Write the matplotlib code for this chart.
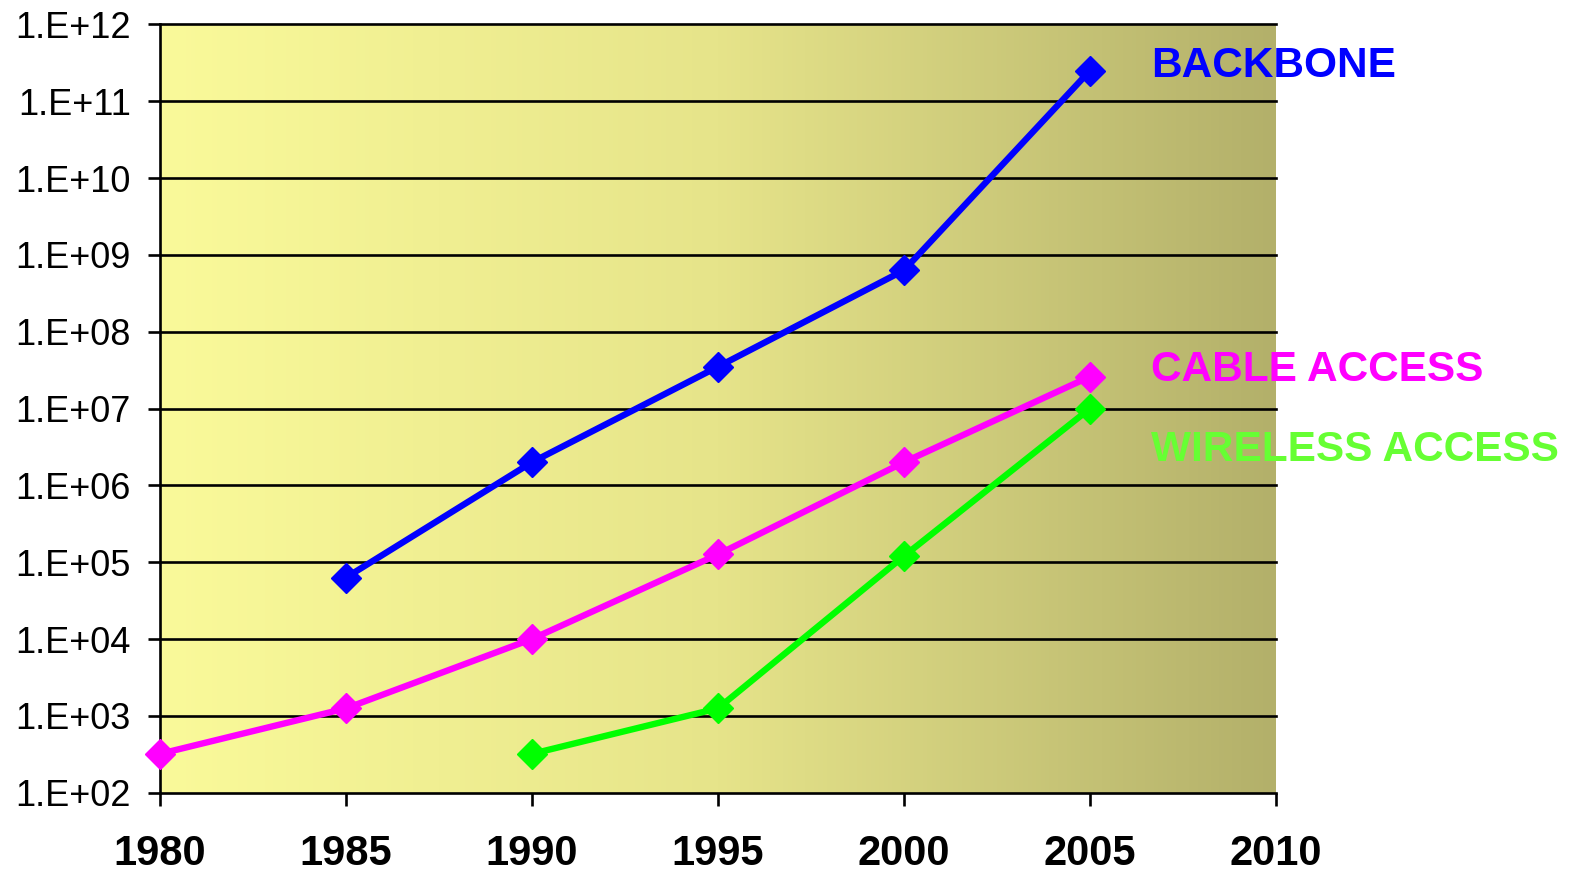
import numpy as np
import matplotlib.pyplot as plt
from matplotlib.colors import LinearSegmentedColormap

plt.rcParams['font.family'] = ['Liberation Sans', 'DejaVu Sans']

# Данные
years_backbone = [1985, 1990, 1995, 2000, 2005]
backbone = [6.3e4, 2.0e6, 3.5e7, 6.3e8, 2.5e11]

years_cable = [1980, 1985, 1990, 1995, 2000, 2005]
cable = [3.2e2, 1.25e3, 1.0e4, 1.26e5, 2.0e6, 2.6e7]

years_wireless = [1990, 1995, 2000, 2005]
wireless = [3.2e2, 1.25e3, 1.2e5, 1.0e7]

x_ticks = [1980, 1985, 1990, 1995, 2000, 2005, 2010]
y_ticks = [10.0 ** p for p in range(2, 13)]
y_labels = ['1.E+%02d' % p for p in range(2, 13)]

series_names = ['BACKBONE', 'CABLE ACCESS', 'WIRELESS ACCESS']


def draw_chart():
    fig = plt.figure(figsize=(15.84, 8.72), dpi=100)
    ax = fig.add_axes([0.101, 0.091, 0.7045, 0.881])

    # фон с градиентом слева направо
    cmap = LinearSegmentedColormap.from_list('bg', ['#fafa9a', '#e6e48a', '#b3b06a'])
    grad = np.linspace(0, 1, 256).reshape(1, -1)
    ax.imshow(grad, cmap=cmap, aspect='auto', extent=[0, 1, 0, 1],
              transform=ax.transAxes, zorder=0)

    ax.set_yscale('log')
    ax.set_xlim(1980, 2010)
    ax.set_ylim(1e2, 1e12)

    for yv in y_ticks[1:]:
        ax.axhline(yv, color='black', linewidth=1.9, zorder=1, clip_on=False)

    kw = dict(marker='D', markersize=15, linewidth=4.6, zorder=3, clip_on=False)
    ax.plot(years_backbone, backbone, color='#0000ff', **kw)
    ax.plot(years_cable, cable, color='#ff00ff', **kw)
    ax.plot(years_wireless, wireless, color='#00ff00', **kw)

    ax.set_xticks(x_ticks)
    ax.set_xticklabels([str(x) for x in x_ticks], fontsize=30, fontweight='bold')
    ax.set_yticks(y_ticks)
    ax.set_yticklabels(y_labels, fontsize=26)
    ax.minorticks_off()
    ax.tick_params(axis='both', direction='out', length=9, width=1.9, color='black')
    ax.tick_params(axis='x', pad=21)
    ax.tick_params(axis='y', pad=12)

    for side in ['top', 'right']:
        ax.spines[side].set_visible(False)
    for side in ['left', 'bottom']:
        ax.spines[side].set_linewidth(1.9)
        ax.spines[side].set_zorder(2)

    label_colors = ['#0000ff', '#ff00ff', '#66ff33']
    label_y = [0.946, 0.550, 0.446]
    for name, c, yy in zip(series_names, label_colors, label_y):
        ax.text(0.888, yy, name, transform=ax.transAxes, color=c, fontsize=30.5,
                fontweight='bold', va='center', ha='left', clip_on=False, zorder=4)

    fig.savefig('out.png', dpi=100)


def main():
    draw_chart()


if __name__ == "__main__":
    main()
